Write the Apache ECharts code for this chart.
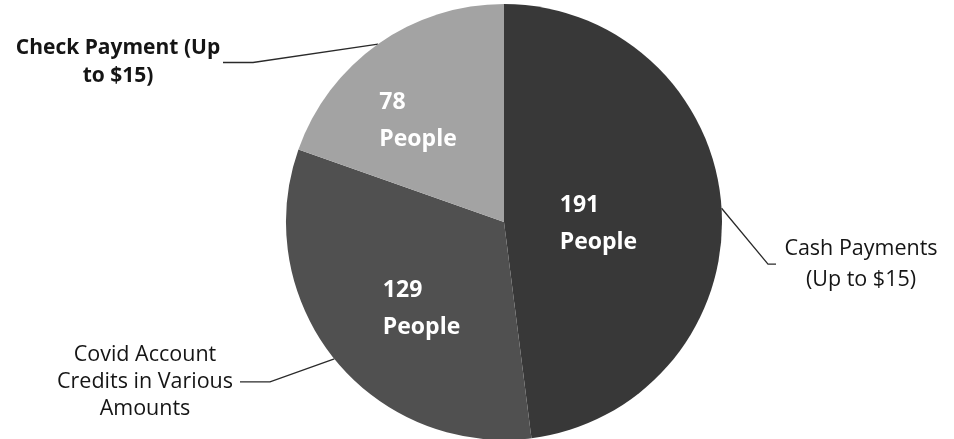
<!DOCTYPE html>
<html><head><meta charset="utf-8">
<script src="https://cdn.jsdelivr.net/npm/echarts@6/dist/echarts.min.js"></script>
<style>html,body{margin:0;background:#fff}#c{width:954px;height:439px}</style>
</head><body><div id="c"></div>
<script>
// Data
const categories = ['Cash Payments\n(Up to $15)', 'Covid Account\nCredits in Various\nAmounts', 'Check Payment (Up\nto $15)'];
const values = [191, 129, 78];
const unitLabel = 'People';

// Styles
const colors = ['#383838', '#505050', '#a3a3a3'];
const innerOffset = [[-12, 9], [10, 17], [-16, -10]];
const outerBold = [false, false, true];
const outerBoxWidth = [170, 190, 210];
const outerEdge = [8, 50, 13];
const outerLineLen = [32, 8, 8];
const outerLineLen2 = [8, 30, 30];
const outerDy = [58, 18, 25];
const outerLineHeight = [31, 27, 28];
const FONT = 'Open Sans';

const chart = echarts.init(document.getElementById('c'));
const innerData = values.map((v, i) => ({
  value: v, name: categories[i], itemStyle: { color: colors[i] },
  label: { offset: innerOffset[i] }
}));
const outerData = values.map((v, i) => ({
  value: v, name: categories[i],
  label: { edgeDistance: outerEdge[i] },
  labelLine: { length: outerLineLen[i], length2: outerLineLen2[i] }
}));

chart.setOption({
  animation: false,
  backgroundColor: '#ffffff',
  series: [
    {
      type: 'pie', center: [504, 222], radius: 218, startAngle: 90, clockwise: true,
      silent: true, data: innerData,
      itemStyle: { borderWidth: 0 },
      label: {
        position: 'inside',
        formatter: p => `{t|${p.value}}\n{t|${unitLabel}}`,
        rich: { t: { width: 88, align: 'left', color: '#ffffff', fontFamily: FONT, fontWeight: 'bold', fontSize: 23, lineHeight: 37 } }
      },
      labelLine: { show: false }
    },
    {
      type: 'pie', center: [504, 222], radius: 218, startAngle: 90, clockwise: true,
      silent: true, data: outerData,
      itemStyle: { color: 'rgba(0,0,0,0)' },
      label: {
        position: 'outside', alignTo: 'edge', distanceToLabelLine: 3, overflow: 'none',
        formatter: p => {
          const key = 'k' + p.dataIndex;
          return p.name.split('\n').map(s => `{${key}|${s}}`).join('\n');
        },
        rich: Object.fromEntries(values.map((v, i) => ['k' + i, {
          width: outerBoxWidth[i], align: 'center', color: '#151515', fontFamily: FONT,
          fontWeight: outerBold[i] ? 'bold' : 'normal', fontSize: outerBold[i] ? 21 : 21.5,
          lineHeight: outerLineHeight[i]
        }]))
      },
      labelLine: { show: true, lineStyle: { color: '#2a2a2a', width: 1.3 } },
      labelLayout: p => ({ y: p.labelRect.y + p.labelRect.height / 2 + outerDy[p.dataIndex] })
    }
  ]
});
</script></body></html>
